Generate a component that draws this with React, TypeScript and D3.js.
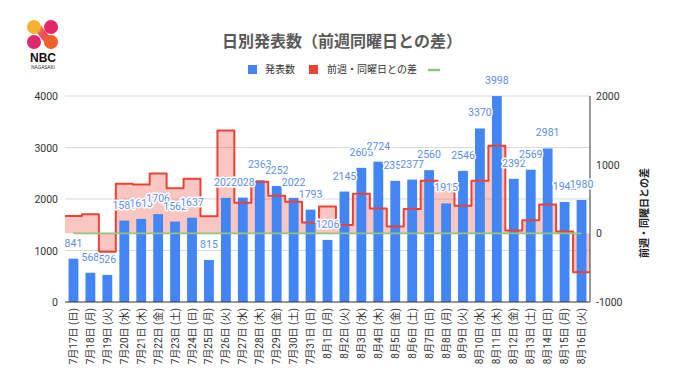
import React from "react";
import * as d3 from "d3";

const dates = [
  "7月17日", "7月18日", "7月19日", "7月20日", "7月21日", "7月22日", "7月23日",
  "7月24日", "7月25日", "7月26日", "7月27日", "7月28日", "7月29日", "7月30日",
  "7月31日", "8月1日", "8月2日", "8月3日", "8月4日", "8月5日", "8月6日",
  "8月7日", "8月8日", "8月9日", "8月10日", "8月11日", "8月12日", "8月13日",
  "8月14日", "8月15日", "8月16日",
];
const weekdays = [
  "日", "月", "火", "水", "木", "金", "土",
  "日", "月", "火", "水", "木", "金", "土",
  "日", "月", "火", "水", "木", "金", "土",
  "日", "月", "火", "水", "木", "金", "土",
  "日", "月", "火",
];
const counts = [
  841, 568, 526, 1581, 1613, 1706, 1562,
  1637, 815, 2022, 2028, 2363, 2252, 2022,
  1793, 1206, 2145, 2605, 2724, 2352, 2377,
  2560, 1915, 2546, 3370, 3998, 2392, 2569,
  2981, 1942, 1980,
];
const diffs = [
  252, 277, -270, 722, 710, 873, 655,
  796, 247, 1496, 447, 750, 546, 460,
  156, 391, 123, 577, 361, 100, 355,
  767, 709, 401, 765, 1274, 40, 192,
  421, 27, -566,
];
const leftTicks = [0, 1000, 2000, 3000, 4000];
const rightTicks = [-1000, 0, 1000, 2000];

const W = 680;
const H = 382;
const X0 = 65;
const X1 = 590;
const YT = 96;
const YB = 302;

const FONT = "Roboto, 'Noto Sans CJK JP', sans-serif";
const JP = "'Noto Sans CJK JP', Roboto, sans-serif";

export default function App() {
  const idx = dates.map((_, i) => i);
  const x = d3.scaleBand<number>().domain(idx).range([X0, X1]).paddingInner(0.42).paddingOuter(0.21);
  const step = x.step();
  const yL = d3.scaleLinear().domain([0, 4000]).range([YB, YT]);
  const yR = d3.scaleLinear().domain([-1000, 2000]).range([YB, YT]);

  const stepPts: [number, number][] = diffs.map((d, i) => [X0 + i * step, d]);
  stepPts.push([X1, diffs[diffs.length - 1]]);

  const line = d3.line<[number, number]>().x((d) => d[0]).y((d) => yR(d[1])).curve(d3.curveStepAfter);
  const area = d3
    .area<[number, number]>()
    .x((d) => d[0])
    .y0(yR(0))
    .y1((d) => yR(d[1]))
    .curve(d3.curveStepAfter);

  const cx = (i: number) => (x(i) as number) + x.bandwidth() / 2;

  return (
    <svg width={W} height={H} style={{ position: "absolute", left: 0, top: 0, background: "#fff" }}>
      <defs>
        <linearGradient id="lg" x1="0" y1="0" x2="1" y2="1">
          <stop offset="0" stopColor="#f8b92c" />
          <stop offset="0.5" stopColor="#ee4a5c" />
          <stop offset="1" stopColor="#f2622a" />
        </linearGradient>
      </defs>
      {/* logo */}
      <g>
        <path d="M30,24 L38,22 L56,44 L48,47 Z" fill="url(#lg)" />
        <circle cx={34} cy={27} r={7} fill="#f7b12e" />
        <circle cx={51} cy={27} r={7} fill="#e5266a" />
        <circle cx={34} cy={42} r={7} fill="#e1286e" />
        <circle cx={51} cy={42} r={7} fill="#f0602a" />
        <text x={43} y={62} textAnchor="middle" fontFamily="Arial, 'Liberation Sans', sans-serif" fontWeight="bold" fontSize={12} fill="#111">NBC</text>
        <text x={43} y={68.5} textAnchor="middle" fontFamily="Arial, 'Liberation Sans', sans-serif" fontSize={4.6} fill="#222">NAGASAKI</text>
      </g>
      {/* title */}
      <text x={342} y={47} textAnchor="middle" fontFamily={JP} fontWeight="bold" fontSize={16} fill="#595959">
        日別発表数（前週同曜日との差）
      </text>
      {/* legend */}
      <g fontFamily={JP} fontSize={10} fill="#333">
        <rect x={248} y={65} width={9} height={9} fill="#4285f4" />
        <text x={265} y={73}>発表数</text>
        <rect x={309} y={65} width={9} height={9} fill="#ea4335" />
        <text x={327} y={73}>前週・同曜日との差</text>
        <line x1={428} x2={440} y1={70} y2={70} stroke="#93c47d" strokeWidth={2.5} />
      </g>
      {/* gridlines */}
      {leftTicks.slice(1).map((t) => (
        <line key={t} x1={X0} x2={X1} y1={yL(t)} y2={yL(t)} stroke="#d9d9d9" strokeWidth={1} />
      ))}
      {/* area */}
      <path d={area(stepPts) || ""} fill="#ea4335" fillOpacity={0.3} />
      {/* bars */}
      {counts.map((v, i) => (
        <rect key={i} x={x(i)} y={yL(v)} width={x.bandwidth()} height={YB - yL(v)} fill="#4285f4" />
      ))}
      {/* baseline */}
      <line x1={X0} x2={X1} y1={YB} y2={YB} stroke="#333" strokeWidth={1} />
      {/* right axis line */}
      <line x1={X1} x2={X1} y1={YT} y2={YB} stroke="#555" strokeWidth={1.2} />
      {/* red step line */}
      <path d={line(stepPts) || ""} fill="none" stroke="#ea4335" strokeWidth={2} strokeLinejoin="round" />
      {/* green zero line */}
      <line x1={cx(0)} x2={cx(counts.length - 1)} y1={yR(0)} y2={yR(0)} stroke="#93c47d" strokeWidth={1.8} />
      {/* value labels */}
      {counts.map((v, i) => (
        <text
          key={i}
          x={cx(i)}
          y={yL(v) - 12}
          textAnchor="middle"
          fontFamily={FONT}
          fontSize={10.5}
          fill="#5b8fe6"
          stroke="#fff"
          strokeWidth={3}
          strokeLinejoin="round"
          style={{ paintOrder: "stroke" }}
        >
          {v}
        </text>
      ))}
      {/* left ticks */}
      {leftTicks.map((t) => (
        <text key={t} x={58} y={yL(t) + 4} textAnchor="end" fontFamily={FONT} fontSize={10.5} fill="#333">
          {t}
        </text>
      ))}
      {/* right ticks */}
      {rightTicks.map((t) => (
        <text key={t} x={596} y={yR(t) + 4} textAnchor="start" fontFamily={FONT} fontSize={10.5} fill="#333">
          {t}
        </text>
      ))}
      {/* right axis title */}
      <text
        transform={`translate(643,${(YT + YB) / 2 + 14}) rotate(-90)`}
        textAnchor="middle"
        dominantBaseline="central"
        fontFamily={JP}
        fontWeight="bold"
        fontSize={10}
        fill="#222"
      >
        前週・同曜日との差
      </text>
      {/* x labels */}
      {dates.map((d, i) => (
        <text
          key={i}
          transform={`translate(${cx(i)},308) rotate(-90)`}
          textAnchor="end"
          dominantBaseline="central"
          fontFamily={FONT}
          fontSize={10}
          fill="#333"
        >
          {`${d} (${weekdays[i]})`}
        </text>
      ))}
    </svg>
  );
}
